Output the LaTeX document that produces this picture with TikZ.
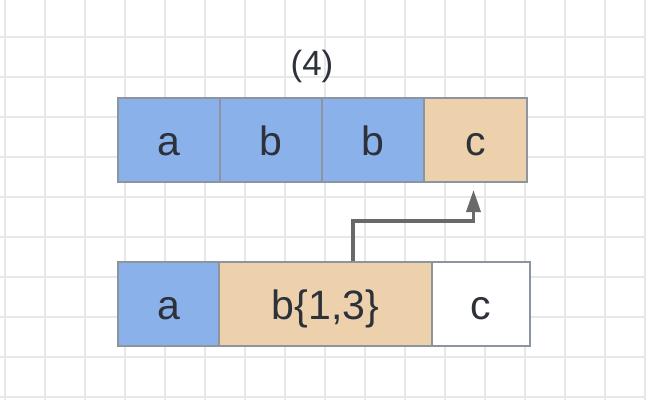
\documentclass[tikz,border=0pt]{standalone}
\usepackage{fontspec}
\setmainfont{Liberation Sans}
\usetikzlibrary{arrows.meta}
\definecolor{cellblue}{RGB}{139,177,235}
\definecolor{celltan}{RGB}{237,208,172}
\definecolor{cellborder}{RGB}{140,148,160}
\definecolor{gridgray}{RGB}{232,232,232}
\definecolor{txt}{RGB}{45,50,58}
\definecolor{arrowgray}{RGB}{105,105,105}
\tikzset{
  cell/.style={draw=cellborder, line width=2pt, minimum height=84pt, inner sep=0pt,
    text height=30pt, text depth=0pt,
    anchor=north west, text=txt, font=\fontsize{41}{41}\selectfont},
  bluecell/.style={cell, fill=cellblue},
  tancell/.style={cell, fill=celltan},
  whitecell/.style={cell, fill=white},
  arr/.style={draw=arrowgray, line width=3.5pt, -{Triangle[length=22pt,width=14pt]}},
}
\begin{document}
\begin{tikzpicture}[x=1pt,y=-1pt]
\useasboundingbox (0,0) rectangle (646,400);
\fill[white] (0,0) rectangle (646,400);
% grid
\foreach \gx in {5,45,...,645} \draw[gridgray, line width=2pt] (\gx,0) -- (\gx,400);
\foreach \gy in {37,77,...,397} \draw[gridgray, line width=2pt] (0,\gy) -- (646,\gy);
% title
\node[text=txt, font=\fontsize{35}{35}\selectfont] (title) at (312,66) {(4)};
% top row
\node[bluecell, minimum width=102pt] (a1) at (117,97) {a};
\node[bluecell, minimum width=102pt] (b1) at (219,97) {b};
\node[bluecell, minimum width=102pt] (b2) at (321,97) {b};
\node[tancell, minimum width=103pt] (c1) at (423,97) {c};
% bottom row
\node[bluecell, minimum width=101pt] (a2) at (117,261) {a};
\node[tancell, minimum width=213pt] (b13) at (218,261) {b\{1,3\}};
\node[whitecell, minimum width=98pt] (c2) at (431,261) {c};
% arrow
\draw[arr] ([xshift=27.5pt]b13.north) -- ++(0,-40) -| ([xshift=-2pt,yshift=-7pt]c1.south);
\end{tikzpicture}
\end{document}
